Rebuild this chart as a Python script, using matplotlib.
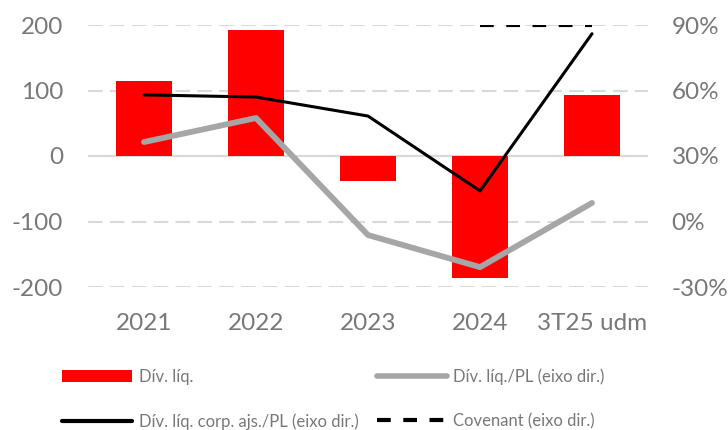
import matplotlib.pyplot as plt
from matplotlib.lines import Line2D
from matplotlib.patches import Patch
import numpy as np

categorias = ["2021", "2022", "2023", "2024", "3T25 udm"]
div_liq = [114, 192, -38, -186, 93]
div_liq_pl = [36.4, 47.4, -6.2, -20.9, 8.5]
div_liq_corp_pl = [58.0, 57.0, 48.3, 14.0, 86.0]
covenant_cats = ["2024", "3T25 udm"]
covenant = [90, 90]
ticks_esq = [-200, -100, 0, 100, 200]
ticks_dir = [-30, 0, 30, 60, 90]

cinza = "#787878"
fonte = dict(family="Lato", fontweight="normal")

fig = plt.figure(figsize=(7.28, 4.30), dpi=100)
ax = fig.add_axes([88 / 728, 1 - 287 / 430, 560 / 728, 262 / 430])
ax2 = ax.twinx()

x = np.arange(len(categorias))
ax.bar(x, div_liq, width=0.5, color="#ff0000", zorder=2)

for v in [-200, -100, 100, 200]:
    ax.axhline(v, color="#d9d9d9", lw=1.5, ls=(0, (7, 3.5)), zorder=0)
ax.axhline(0, color="#d9d9d9", lw=1.5, zorder=1)

ax2.plot(x, div_liq_pl, color="#a6a6a6", lw=4.2, solid_capstyle="round", zorder=3)
ax2.plot(x, div_liq_corp_pl, color="black", lw=2.2, solid_capstyle="round", zorder=4)
cov_x = [categorias.index(c) for c in covenant_cats]
ax2.plot(cov_x, covenant, color="black", lw=3, ls=(0, (3.3, 3.0)), zorder=4)

ax.set_xlim(-0.5, len(categorias) - 0.5)
ax.set_ylim(-200, 200)
ax2.set_ylim(-30, 90)
ax.set_yticks(ticks_esq)
ax.set_yticklabels([str(v) for v in ticks_esq])
ax2.set_yticks(ticks_dir)
ax2.set_yticklabels([f"{v}%" for v in ticks_dir])
ax.set_xticks(x)
ax.set_xticklabels(categorias)

for a in (ax, ax2):
    for s in a.spines.values():
        s.set_visible(False)
    a.tick_params(length=0, colors=cinza, labelsize=17.5)
    for lbl in a.get_xticklabels() + a.get_yticklabels():
        lbl.set(**fonte)
ax.tick_params(axis="y", pad=18)
ax2.tick_params(axis="y", pad=17)
ax.tick_params(axis="x", pad=19)

handles = [
    Patch(facecolor="#ff0000"),
    Line2D([], [], color="black", lw=3, solid_capstyle="round"),
    Line2D([], [], color="#a6a6a6", lw=4, solid_capstyle="round"),
    Line2D([], [], color="black", lw=3, ls=(0, (3.3, 3.0))),
]
labels = [
    "Dív. líq.",
    "Dív. líq. corp. ajs./PL (eixo dir.)",
    "Dív. líq./PL (eixo dir.)",
    "Covenant (eixo dir.)",
]
leg = fig.legend(handles, labels, ncol=2, loc="center left", bbox_to_anchor=(47 / 728, 1 - 399 / 430),
                 frameon=False, handlelength=4.2, handleheight=0.75, handletextpad=0.4, columnspacing=1.1,
                 labelspacing=1.7, prop=dict(family="Lato", weight="normal", size=12))
for t in leg.get_texts():
    t.set_color(cinza)

fig.savefig("out.png", dpi=100)
